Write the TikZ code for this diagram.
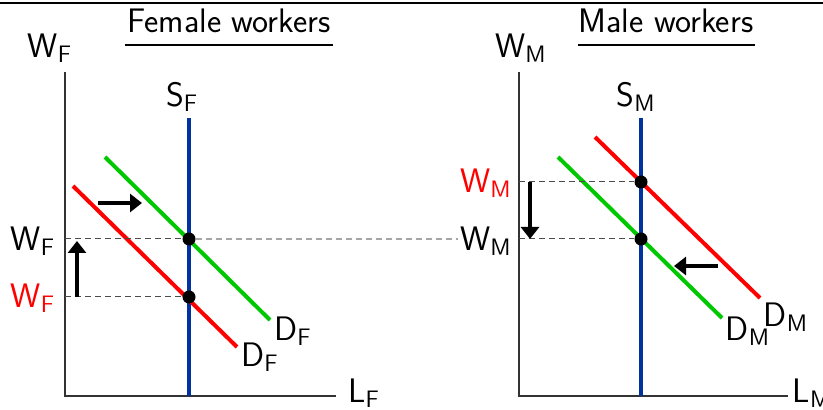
\documentclass[tikz,border=0pt]{standalone}
\usepackage{tikz}
\usetikzlibrary{arrows.meta,positioning}
\renewcommand{\familydefault}{\sfdefault}
\definecolor{supblue}{RGB}{0,51,160}
\definecolor{demgreen}{RGB}{0,200,0}

\begin{document}
\begin{tikzpicture}[x=0.5pt,y=-0.5pt,
  lab/.style={font=\fontsize{17}{20}\selectfont,inner sep=1pt},
  axis/.style={line width=0.7pt,black!80},
  curve/.style={line width=2pt},
  eq/.style={circle,fill=black,inner sep=0pt,minimum size=6.5pt},
  guide/.style={dash pattern=on 3pt off 2pt,black!70,line width=0.5pt},
  move/.style={-{Triangle[length=6pt,width=9pt]},line width=2pt}]
  \useasboundingbox (0,0) rectangle (823,410);
  \draw[line width=1pt] (0,3) -- (823,3);

  % Female workers
  \node[lab] (tF) at (229,21) {Female workers};
  \draw[line width=0.7pt] (125,45) -- (333,45);
  \coordinate (oF) at (65,396);
  \draw[axis] (65,72) -- (oF) -- (336,396);
  \node[lab] (WF) at (50,48) {W\textsubscript{F}};
  \node[lab] (LF) at (364,393) {L\textsubscript{F}};
  \node[lab] (SF) at (182,97) {S\textsubscript{F}};
  \draw[curve,supblue] (189,118) -- (189,396);
  \draw[curve,demgreen] (105,157) -- (270,320);
  \draw[curve,red] (73,186) -- (237,347);
  \node[lab] (DFg) at (293,331) {D\textsubscript{F}};
  \node[lab] (DFr) at (260,357) {D\textsubscript{F}};
  \node[eq] (eF1) at (189,239) {};
  \node[eq] (eF0) at (189,297) {};
  \node[lab] (wF1) at (33,241) {W\textsubscript{F}};
  \node[lab,red] (wF0) at (33,298) {W\textsubscript{F}};
  \coordinate (aF1) at (65,239);
  \coordinate (aF0) at (65,297);
  \draw[guide] (aF1) -- (eF1);
  \draw[guide] (aF0) -- (eF0);
  \coordinate (upA) at (77,297);
  \coordinate (upB) at (77,241);
  \draw[move] (upA) -- (upB);
  \coordinate (rtA) at (98,203);
  \coordinate (rtB) at (142,203);
  \draw[move] (rtA) -- (rtB);

  % Male workers
  \node[lab] (tM) at (666,21) {Male workers};
  \draw[line width=0.7pt] (578,45) -- (755,45);
  \coordinate (oM) at (519,396);
  \draw[axis] (519,72) -- (oM) -- (788,396);
  \node[lab] (WM) at (521,48) {W\textsubscript{M}};
  \node[lab] (LM) at (812,393) {L\textsubscript{M}};
  \node[lab] (SM) at (636,97) {S\textsubscript{M}};
  \draw[curve,supblue] (641,118) -- (641,396);
  \draw[curve,red] (595,137) -- (760,298);
  \draw[curve,demgreen] (558,157) -- (722,318);
  \node[lab] (DMr) at (786,317) {D\textsubscript{M}};
  \node[lab] (DMg) at (748,331) {D\textsubscript{M}};
  \node[eq] (eM0) at (641,182) {};
  \node[eq] (eM1) at (641,239) {};
  \node[lab,red] (wM0) at (486,183) {W\textsubscript{M}};
  \node[lab] (wM1) at (486,241) {W\textsubscript{M}};
  \coordinate (aM0) at (519,182);
  \coordinate (aM1) at (519,239);
  \draw[guide] (aM0) -- (eM0);
  \draw[guide] (aM1) -- (eM1);
  \draw[dash pattern=on 3pt off 2pt,black!35,line width=0.6pt] (eF1) -- (wM1.west |- eF1);
  \coordinate (dnA) at (530,182);
  \coordinate (dnB) at (530,239);
  \draw[move] (dnA) -- (dnB);
  \coordinate (lfA) at (718,266);
  \coordinate (lfB) at (674,266);
  \draw[move] (lfA) -- (lfB);
\end{tikzpicture}
\end{document}
